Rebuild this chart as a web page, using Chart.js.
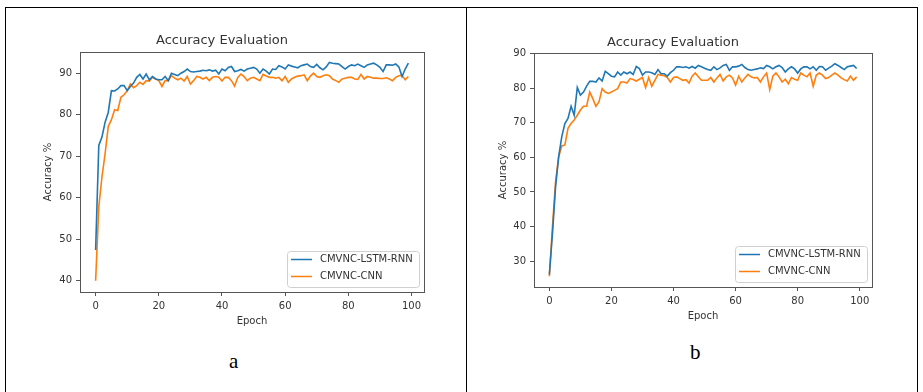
<!DOCTYPE html>
<html>
<head>
<meta charset="utf-8">
<title>Accuracy Evaluation</title>
<script src="https://cdn.jsdelivr.net/npm/chart.js"></script>
<style>
  body { margin: 0; background: #fff; }
  #page { position: relative; width: 923px; height: 392px; overflow: hidden; }
  .rule { position: absolute; background: #000; }
  canvas { position: absolute; }
  .cap { position: absolute; font-family: "Liberation Serif", "Times New Roman", serif; font-size: 21px; color: #000; line-height: 1; }
</style>
</head>
<body>
<div id="page">
  <div class="rule" style="left:5px;top:7px;width:913px;height:1px"></div>
  <div class="rule" style="left:5px;top:7px;width:1px;height:385px"></div>
  <div class="rule" style="left:466px;top:7px;width:1px;height:385px"></div>
  <div class="rule" style="left:917px;top:7px;width:1px;height:385px"></div>
  <canvas id="chartA" width="420" height="310" style="left:20px;top:25px"></canvas>
  <canvas id="chartB" width="420" height="310" style="left:474px;top:25px"></canvas>
  <div class="cap" style="left:229px;top:351px">a</div>
  <div class="cap" style="left:690px;top:342px">b</div>
</div>

<script>
// epoch index for every point
const epochs = Array.from({length: 100}, (_, i) => i);
const xTicks = [0, 20, 40, 60, 80, 100];

// panel a
const lstmA = [
  47.4, 72.6, 74.6, 78.2, 80.6, 85.8, 85.7, 86.2, 87.0, 87.0,
  85.8, 86.8, 87.6, 89.0, 89.7, 88.6, 89.8, 88.4, 89.2, 88.6,
  88.4, 88.4, 89.2, 88.2, 90.0, 89.7, 89.4, 90.0, 90.4, 91.0,
  90.4, 90.3, 90.4, 90.5, 90.7, 90.6, 90.8, 90.5, 90.7, 89.8,
  91.0, 90.6, 91.4, 91.6, 90.4, 90.6, 90.9, 90.5, 91.0, 91.2,
  91.4, 91.0, 90.0, 91.0, 90.5, 89.8, 91.0, 90.9, 91.8, 91.5,
  91.0, 92.0, 91.7, 91.5, 91.3, 91.8, 92.0, 92.2, 91.6, 91.4,
  92.1, 91.3, 90.8, 91.5, 92.6, 92.4, 92.3, 92.2, 91.6, 91.0,
  91.6, 92.0, 91.8, 92.2, 91.8, 91.4, 92.0, 92.2, 92.4, 92.0,
  91.4, 90.4, 92.0, 92.0, 91.9, 92.2, 91.5, 89.2, 91.0, 92.4
];
const cnnA = [
  40.0, 57.8, 65.0, 70.6, 77.2, 78.8, 81.2, 81.0, 84.2, 84.8,
  85.8, 87.4, 86.5, 87.0, 87.8, 87.3, 88.2, 88.1, 89.0, 88.6,
  88.2, 86.8, 88.2, 88.2, 89.4, 88.8, 88.4, 88.8, 88.1, 89.2,
  87.4, 88.2, 89.2, 89.0, 88.6, 89.0, 88.2, 89.0, 89.2, 89.0,
  88.1, 89.0, 89.0, 88.2, 86.9, 89.0, 89.8, 89.2, 88.2, 88.8,
  89.0, 88.6, 88.2, 89.7, 89.3, 89.0, 89.0, 88.8, 89.0, 88.2,
  89.2, 87.8, 88.6, 89.0, 89.3, 89.4, 89.6, 88.2, 89.3, 90.0,
  89.2, 89.0, 89.4, 89.6, 89.4, 88.6, 88.2, 87.8, 88.6, 88.8,
  89.0, 89.0, 88.6, 88.5, 89.7, 88.6, 89.2, 89.0, 88.8, 88.8,
  88.7, 88.7, 88.9, 88.6, 88.2, 89.0, 89.4, 89.5, 88.4, 89.2
];
const yTicksA = [40, 50, 60, 70, 80, 90];

// panel b
const lstmB = [
  26.1, 38.0, 51.5, 60.2, 66.0, 69.8, 71.3, 74.8, 72.2, 80.2,
  78.0, 78.9, 80.6, 82.0, 82.0, 81.8, 83.0, 82.1, 84.9, 84.2,
  83.5, 83.3, 84.7, 83.8, 84.7, 84.2, 84.7, 84.0, 86.3, 85.7,
  83.8, 84.7, 84.7, 84.5, 84.0, 85.4, 84.2, 84.2, 83.5, 84.5,
  85.2, 86.2, 86.2, 86.0, 86.2, 85.8, 86.3, 85.8, 86.6, 86.2,
  85.8, 85.4, 85.2, 86.2, 85.4, 85.9, 86.6, 86.9, 85.2, 86.2,
  86.2, 86.4, 86.9, 86.0, 85.4, 85.2, 85.4, 85.6, 85.9, 85.7,
  86.6, 86.2, 85.6, 86.2, 86.6, 86.0, 84.7, 85.6, 86.2, 85.6,
  84.4, 85.6, 86.2, 86.2, 85.6, 86.2, 85.2, 86.3, 86.2, 85.2,
  85.8, 86.4, 87.1, 86.6, 86.0, 85.4, 86.2, 86.4, 86.6, 85.7
];
const cnnB = [
  25.6, 40.0, 53.0, 60.2, 63.3, 63.6, 68.4, 69.8, 70.8, 72.2,
  73.7, 74.8, 74.8, 78.9, 77.0, 74.8, 76.1, 79.9, 78.9, 78.5,
  78.9, 79.4, 79.9, 81.8, 81.8, 81.5, 82.8, 82.5, 82.1, 82.6,
  83.1, 80.2, 83.1, 80.6, 82.3, 84.0, 83.8, 83.6, 83.1, 81.8,
  83.1, 83.3, 82.8, 82.3, 82.5, 81.5, 83.5, 84.4, 83.3, 82.3,
  82.3, 82.3, 83.1, 81.8, 83.0, 84.0, 82.1, 83.3, 83.8, 83.0,
  80.9, 83.5, 81.8, 83.0, 84.0, 83.3, 83.0, 83.1, 81.8, 83.3,
  84.4, 79.6, 83.5, 84.4, 83.3, 81.8, 82.6, 81.3, 83.1, 82.6,
  82.3, 84.4, 83.8, 83.3, 84.4, 80.6, 83.8, 84.4, 83.8, 82.8,
  83.1, 83.8, 84.4, 83.8, 83.0, 82.5, 82.1, 83.5, 82.3, 83.3
];
const yTicksB = [30, 40, 50, 60, 70, 80, 90];

const seriesNames = ['CMVNC-LSTM-RNN', 'CMVNC-CNN'];
const seriesColors = ['#1f77b4', '#ff7f0e'];

Chart.defaults.font.family = '"DejaVu Sans", sans-serif';
Chart.defaults.font.size = 10;
Chart.defaults.color = '#333';

// frame around the plot area (all four spines)
const frame = {
  id: 'frame',
  afterDraw(chart) {
    const {ctx, chartArea: a} = chart;
    ctx.save();
    ctx.strokeStyle = '#555';
    ctx.lineWidth = 1;
    ctx.strokeRect(Math.round(a.left) + 0.5, Math.round(a.top) + 0.5,
                   Math.round(a.right - a.left), Math.round(a.bottom - a.top));
    ctx.restore();
  }
};

// legend box in the lower right corner of the plot
const boxLegend = {
  id: 'boxLegend',
  afterDraw(chart) {
    const {ctx, chartArea: a} = chart;
    const w = 132, h = 36;
    const x = Math.round(a.right - 5 - w), y = Math.round(a.bottom - 5 - h);
    ctx.save();
    ctx.fillStyle = 'rgba(255,255,255,0.8)';
    ctx.strokeStyle = '#d0d0d0';
    ctx.lineWidth = 1;
    ctx.beginPath();
    ctx.roundRect(x + 0.5, y + 0.5, w, h, 3);
    ctx.fill();
    ctx.stroke();
    ctx.font = '10px "DejaVu Sans", sans-serif';
    ctx.textBaseline = 'middle';
    chart.data.datasets.forEach((ds, i) => {
      const ly = y + 8.5 + i * 17;
      ctx.strokeStyle = ds.borderColor;
      ctx.lineWidth = 1.5;
      ctx.beginPath();
      ctx.moveTo(x + 4, ly);
      ctx.lineTo(x + 25, ly);
      ctx.stroke();
      ctx.fillStyle = '#333';
      ctx.fillText(ds.label, x + 33, ly);
    });
    ctx.restore();
  }
};

function makeChart(id, lstm, cnn, yTicks, ymin, ymax, lay) {
  new Chart(document.getElementById(id), {
    type: 'line',
    data: {
      datasets: [lstm, cnn].map((vals, k) => ({
        label: seriesNames[k],
        data: vals.map((v, i) => ({x: epochs[i], y: v})),
        borderColor: seriesColors[k],
        backgroundColor: seriesColors[k],
        borderWidth: 1.6,
        pointRadius: 0,
        tension: 0,
        fill: false
      }))
    },
    options: {
      responsive: false,
      animation: false,
      devicePixelRatio: 1,
      layout: {padding: {left: 0, right: lay.right, top: 0, bottom: 0}},
      plugins: {
        legend: {display: false},
        tooltip: {enabled: false},
        title: {
          display: true,
          text: 'Accuracy Evaluation',
          font: {size: 13, weight: 'normal'},
          color: '#333',
          padding: {top: lay.titleTop, bottom: lay.titleBottom}
        }
      },
      scales: {
        x: {
          type: 'linear',
          min: -4.95,
          max: 103.95,
          afterBuildTicks: s => { s.ticks = xTicks.map(v => ({value: v})); },
          afterFit: s => { s.height = lay.xHeight; },
          ticks: {padding: 4, autoSkip: false, maxRotation: 0},
          grid: {drawOnChartArea: false, drawTicks: true, tickLength: 4, color: '#555'},
          border: {display: false},
          title: {display: true, text: 'Epoch', color: '#333', padding: {top: 0, bottom: lay.xTitle}}
        },
        y: {
          type: 'linear',
          min: ymin,
          max: ymax,
          afterBuildTicks: s => { s.ticks = yTicks.map(v => ({value: v})); },
          afterFit: s => { s.width = lay.yWidth; },
          ticks: {padding: 4, autoSkip: false},
          grid: {drawOnChartArea: false, drawTicks: true, tickLength: 4, color: '#555'},
          border: {display: false},
          title: {display: true, text: 'Accuracy %', color: '#333', padding: {top: lay.yTitle, bottom: 0}}
        }
      }
    },
    plugins: [frame, boxLegend]
  });
}

makeChart('chartA', lstmA, cnnA, yTicksA, 37.3, 95.1,
  {right: 16, titleTop: 8.2, titleBottom: 3.2, xHeight: 43, xTitle: 8, yWidth: 60, yTitle: 22});
makeChart('chartB', lstmB, cnnB, yTicksB, 22.5, 90.2,
  {right: 22, titleTop: 10.2, titleBottom: 2.2, xHeight: 48, xTitle: 13, yWidth: 60, yTitle: 23});
</script>
</body>
</html>
